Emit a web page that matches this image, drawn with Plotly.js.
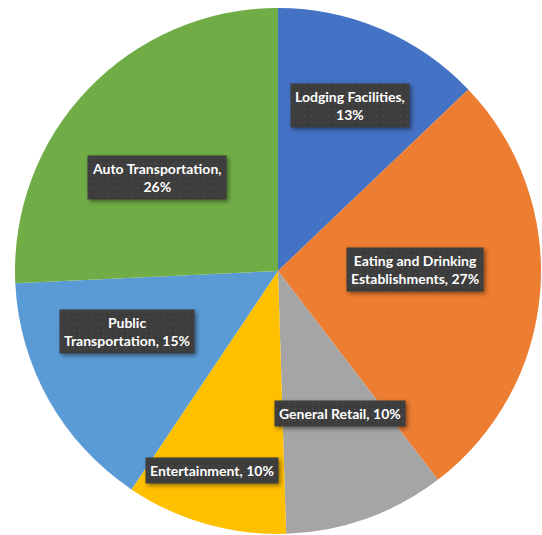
<!DOCTYPE html>
<html>
<head>
<meta charset="utf-8">
<script src="https://cdn.plot.ly/plotly-3.0.1.min.js"></script>
<style>
  html, body { margin: 0; padding: 0; background: #ffffff; }
  #chart { width: 542px; height: 535px; }
  .annotation .bg { filter: drop-shadow(2px 2px 2px rgba(0,0,0,0.45)); }
</style>
</head>
<body>
<svg width="0" height="0" style="position:absolute">
  <defs>
    <pattern id="dots" width="6" height="6" patternUnits="userSpaceOnUse">
      <rect width="6" height="6" fill="#3d3d3d"></rect>
      <rect x="2" y="2" width="1.5" height="1.5" fill="#4b4b4b"></rect>
    </pattern>
  </defs>
</svg>
<div id="chart"></div>
<script>
// ---- data ----
const categories = [
  "Lodging Facilities",
  "Eating and Drinking Establishments",
  "General Retail",
  "Entertainment",
  "Public Transportation",
  "Auto Transportation"
];
const values = [13, 27, 10, 10, 15, 26];
const labelTexts = [
  "Lodging Facilities,<br>13%",
  "Eating and Drinking<br>Establishments, 27%",
  "General Retail, 10%",
  "Entertainment, 10%",
  "Public<br>Transportation, 15%",
  "Auto Transportation,<br>26%"
];

// ---- styles / layout ----
const colors = ["#4472C4", "#ED7D31", "#A5A5A5", "#FFC000", "#5B9BD5", "#70AD47"];
const labelRadiusFrac = [0.685, 0.52, 0.59, 0.80, 0.62, 0.58];
const labelAngleNudge = [0.4, -4.9, -3.8, 2.3, 7.5, -5.9];

const W = 542, H = 535;
const domX = [15 / W, 541 / W];
const domY = [1 - 534 / H, 1 - 8 / H];

// compute label positions from slice mid-angles
const total = values.reduce((a, b) => a + b, 0);
const cxPx = (domX[0] + domX[1]) / 2 * W;
const cyPx = (1 - (domY[0] + domY[1]) / 2) * H;
const rPx = Math.min((domX[1] - domX[0]) * W, (domY[1] - domY[0]) * H) / 2;
let cum = 0;
const annotations = values.map((v, i) => {
  const mid = (cum + v / 2) / total * 360 + labelAngleNudge[i];
  cum += v;
  const a = mid * Math.PI / 180;
  const d = labelRadiusFrac[i] * rPx;
  const px = cxPx + d * Math.sin(a);
  const py = cyPx - d * Math.cos(a);
  return {
    x: px / W, y: 1 - py / H, xref: "paper", yref: "paper",
    xanchor: "center", yanchor: "middle",
    text: labelTexts[i], showarrow: false,
    font: { family: "Lato, 'Open Sans', sans-serif", size: 14, color: "#ffffff", weight: 700 },
    bgcolor: "#3d3d3d", borderpad: 4, align: "center"
  };
});

const trace = {
  type: "pie",
  labels: categories,
  values: values,
  sort: false,
  direction: "clockwise",
  rotation: 0,
  textinfo: "none",
  hoverinfo: "label+percent",
  marker: { colors: colors, line: { width: 0 } },
  domain: { x: domX, y: domY }
};

const layout = {
  width: W, height: H,
  margin: { l: 0, r: 0, t: 0, b: 0 },
  showlegend: false,
  paper_bgcolor: "#ffffff",
  annotations: annotations
};

Plotly.newPlot("chart", [trace], layout, { displayModeBar: false, staticPlot: true }).then(() => {
  document.querySelectorAll(".annotation .bg").forEach(r => r.style.fill = "url(#dots)");
});
</script>
</body>
</html>
